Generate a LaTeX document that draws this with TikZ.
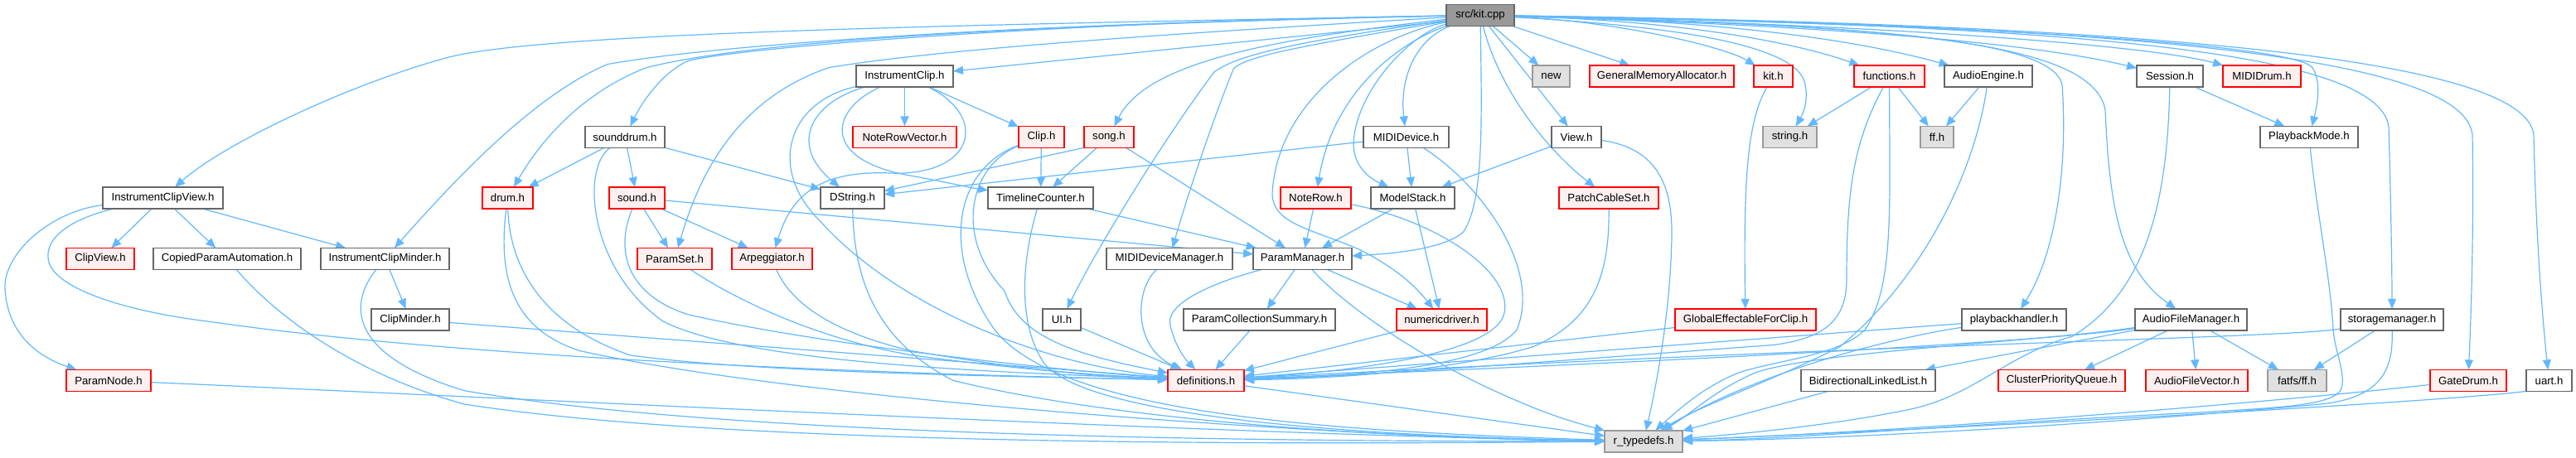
\documentclass[tikz,border=0pt]{standalone}
\usepackage{fontspec}
\setmainfont{Liberation Sans}
\usetikzlibrary{arrows.meta}
\definecolor{edgec}{HTML}{63B8FF}
\definecolor{redb}{HTML}{FF0000}
\definecolor{pinkf}{HTML}{FFF0F0}
\definecolor{grayb}{HTML}{999999}
\definecolor{grayf}{HTML}{E0E0E0}
\definecolor{darkb}{HTML}{666666}
\pgfdeclarelayer{bg}
\pgfsetlayers{bg,main}
\tikzset{
  bx/.style={draw, line width=0.75pt, minimum height=13pt, inner sep=0pt, outer sep=0pt,
    font=\fontsize{6.6pt}{7.5pt}\selectfont, text=black},
  nb/.style={bx, draw=darkb, fill=white},
  rb/.style={bx, draw=redb, fill=pinkf},
  gb/.style={bx, draw=grayb, fill=grayf},
  kb/.style={bx, draw=darkb, fill=grayb},
  ed/.style={draw=edgec, line width=0.6pt, -{Triangle[length=6pt,width=5pt]}},
}
\begin{document}
\begin{tikzpicture}[x=0.5pt, y=-0.5104pt]
\useasboundingbox (0,0) rectangle (3108,540.8);
% row 0
\node[kb, minimum width=41pt] (kitcpp) at (1786,18) {src/kit.cpp};
% row 1
\node[nb, minimum width=58.5pt] (iclip) at (1091.5,90) {InstrumentClip.h};
\node[gb, minimum width=22.5pt] (newh) at (1871.5,90) {new};
\node[rb, minimum width=87pt] (gma) at (2005,90) {GeneralMemoryAllocator.h};
\node[rb, minimum width=23.5pt] (kith) at (2139.5,90) {kit.h};
\node[rb, minimum width=42.5pt] (functions) at (2279.5,90) {functions.h};
\node[nb, minimum width=53pt] (ae) at (2399,90) {AudioEngine.h};
\node[nb, minimum width=40pt] (session) at (2618,90) {Session.h};
\node[rb, minimum width=47pt] (midid) at (2729,90) {MIDIDrum.h};
% row 2
\node[nb, minimum width=48pt] (sounddrum) at (754,162) {sounddrum.h};
\node[rb, minimum width=62.5pt] (nrv) at (1091.5,162) {NoteRowVector.h};
\node[rb, minimum width=27.5pt] (clip) at (1256.5,162) {Clip.h};
\node[rb, minimum width=30pt] (song) at (1338,162) {song.h};
\node[nb, minimum width=51.5pt] (mididevice) at (1696.5,162) {MIDIDevice.h};
\node[nb, minimum width=30pt] (view) at (1902,162) {View.h};
\node[gb, minimum width=32.5pt] (stringh) at (2159.5,162) {string.h};
\node[gb, minimum width=20pt] (ffh) at (2337,162) {ff.h};
\node[nb, minimum width=59pt] (pbm) at (2786,162) {PlaybackMode.h};
% row 3
\node[nb, minimum width=72.5pt] (icv) at (196.5,234) {InstrumentClipView.h};
\node[rb, minimum width=30.5pt] (drum) at (612.5,234) {drum.h};
\node[rb, minimum width=33.5pt] (sound) at (768.5,234) {sound.h};
\node[nb, minimum width=38.5pt] (dstring) at (1028.5,234) {DString.h};
\node[nb, minimum width=63.5pt] (tc) at (1255.5,234) {TimelineCounter.h};
\node[rb, minimum width=42.5pt] (noterow) at (1587.5,234) {NoteRow.h};
\node[nb, minimum width=50.5pt] (modelstack) at (1704.5,234) {ModelStack.h};
\node[rb, minimum width=60pt] (patch) at (1941,234) {PatchCableSet.h};
% row 4
\node[rb, minimum width=41pt] (clipview) at (121,306) {ClipView.h};
\node[nb, minimum width=89pt] (cpa) at (274,306) {CopiedParamAutomation.h};
\node[nb, minimum width=77.5pt] (icm) at (464.5,306) {InstrumentClipMinder.h};
\node[rb, minimum width=45pt] (paramset) at (814,306) {ParamSet.h};
\node[rb, minimum width=48.5pt] (arp) at (931.5,306) {Arpeggiator.h};
\node[nb, minimum width=76pt] (mdm) at (1411,306) {MIDIDeviceManager.h};
\node[nb, minimum width=59.5pt] (pm) at (1571.5,306) {ParamManager.h};
% row 5
\node[nb, minimum width=47pt] (clipminder) at (495,378) {ClipMinder.h};
\node[nb, minimum width=23pt] (ui) at (1281,378) {UI.h};
\node[nb, minimum width=91.5pt] (pcsum) at (1519.5,378) {ParamCollectionSummary.h};
\node[rb, minimum width=54.5pt] (nd) at (1739.5,378) {numericdriver.h};
\node[rb, minimum width=85pt] (gefc) at (2106,378) {GlobalEffectableForClip.h};
\node[nb, minimum width=63pt] (pbh) at (2430,378) {playbackhandler.h};
\node[nb, minimum width=67.5pt] (afm) at (2643.5,378) {AudioFileManager.h};
\node[nb, minimum width=62pt] (sm) at (2886,378) {storagemanager.h};
% row 6
\node[rb, minimum width=51pt] (paramnode) at (131,450) {ParamNode.h};
\node[rb, minimum width=46pt] (defs) at (1455,450) {definitions.h};
\node[nb, minimum width=81pt] (bll) at (2254,450) {BidirectionalLinkedList.h};
\node[rb, minimum width=76.5pt] (cpq) at (2487.5,450) {ClusterPriorityQueue.h};
\node[rb, minimum width=61.5pt] (afv) at (2650.5,450) {AudioFileVector.h};
\node[gb, minimum width=35.5pt] (fatfs) at (2771.5,450) {fatfs/ff.h};
\node[rb, minimum width=46pt] (gatedrum) at (2978,450) {GateDrum.h};
\node[nb, minimum width=27.5pt] (uart) at (3075.5,450) {uart.h};
% row 7
\node[gb, minimum width=47pt] (rt) at (1983,522) {r\_typedefs.h};

\begin{pgfonlayer}{bg}
% edges from src/kit.cpp
\draw[ed] (kitcpp) .. controls (1100,30) and (650,40) .. (540,68) .. controls (420,100) and (270,170) .. (icv);
\draw[ed] (kitcpp) .. controls (1200,28) and (850,55) .. (733,76) .. controls (650,110) and (560,200) .. (icm);
\draw[ed] (kitcpp) .. controls (1200,30) and (900,50) .. (780,80) .. controls (700,110) and (650,170) .. (drum);
\draw[ed] (kitcpp) .. controls (1300,25) and (900,55) .. (830,72) .. controls (800,85) and (775,120) .. (sounddrum);
\draw[ed] (kitcpp) .. controls (1500,35) and (1150,55) .. (1000,80) .. controls (880,120) and (840,220) .. (paramset);
\draw[ed] (kitcpp.190) -- (iclip);
\draw[ed] (kitcpp) .. controls (1550,45) and (1385,70) .. (song);
\draw[ed] (kitcpp) .. controls (1600,50) and (1500,65) .. (1488,82) .. controls (1460,150) and (1430,240) .. (mdm);
\draw[ed] (kitcpp) .. controls (1600,45) and (1500,60) .. (1465,85) .. controls (1400,170) and (1320,300) .. (ui);
\draw[ed] (kitcpp) .. controls (1700,45) and (1610,100) .. (noterow);
\draw[ed] (kitcpp) .. controls (1650,45) and (1540,120) .. (1535,230) .. controls (1537,265) and (1580,270) .. (1640,295) .. controls (1680,315) and (1705,335) .. (nd);
\draw[ed] (kitcpp) .. controls (1700,40) and (1635,110) .. (1633,170) .. controls (1633,195) and (1650,210) .. (modelstack);
\draw[ed] (kitcpp) .. controls (1710,45) and (1688,90) .. (mididevice);
\draw[ed] (kitcpp) .. controls (1788,150) and (1790,240) .. (1765,275) .. controls (1740,295) and (1680,300) .. (pm);
\draw[ed] (kitcpp) -- (newh);
\draw[ed] (kitcpp) -- (gma);
\draw[ed] (kitcpp) .. controls (1820,60) and (1860,110) .. (view);
\draw[ed] (kitcpp) .. controls (1810,110) and (1870,180) .. (patch);
\draw[ed] (kitcpp) .. controls (1950,25) and (2080,55) .. (kith);
\draw[ed] (kitcpp) .. controls (2000,30) and (2170,50) .. (2178,100) .. controls (2182,120) and (2175,135) .. (stringh);
\draw[ed] (kitcpp) .. controls (2050,25) and (2180,55) .. (functions);
\draw[ed] (kitcpp) .. controls (2100,25) and (2250,50) .. (ae);
\draw[ed] (kitcpp) .. controls (2250,30) and (2475,45) .. (2488,100) .. controls (2495,200) and (2480,300) .. (pbh);
\draw[ed] (kitcpp) .. controls (2300,30) and (2525,50) .. (2540,130) .. controls (2545,250) and (2560,320) .. (afm);
\draw[ed] (kitcpp) .. controls (2200,30) and (2450,50) .. (session);
\draw[ed] (kitcpp) .. controls (2300,30) and (2600,55) .. (midid);
\draw[ed] (kitcpp) .. controls (2450,30) and (2770,55) .. (2790,80) .. controls (2800,95) and (2797,120) .. (pbm);
\draw[ed] (kitcpp) .. controls (2500,30) and (2870,60) .. (2882,150) .. controls (2885,250) and (2886,330) .. (sm);
\draw[ed] (kitcpp) .. controls (2600,30) and (2975,70) .. (2983,160) .. controls (2985,300) and (2980,400) .. (gatedrum);
\draw[ed] (kitcpp) .. controls (2700,30) and (3050,80) .. (3057,160) .. controls (3060,300) and (3070,400) .. (uart);
% InstrumentClipView and friends
\draw[ed] (icv) -- (clipview);
\draw[ed] (icv) -- (cpa);
\draw[ed] (icv) -- (icm);
\draw[ed] (icv) .. controls (60,250) and (5,300) .. (6,340) .. controls (8,390) and (40,420) .. (paramnode);
\draw[ed] (icv) .. controls (100,255) and (55,275) .. (58,305) .. controls (60,340) and (150,368) .. (250,380) .. controls (600,430) and (1200,445) .. (defs);
\draw[ed] (cpa) .. controls (330,370) and (420,440) .. (560,478) .. controls (900,530) and (1600,525) .. (rt);
\draw[ed] (icm) -- (clipminder);
\draw[ed] (icm) .. controls (420,360) and (420,420) .. (560,462) .. controls (900,520) and (1600,522) .. (rt);
\draw[ed] (clipminder) -- (defs);
\draw[ed] (paramnode) .. controls (600,470) and (1500,515) .. (rt);
% sounddrum, drum, sound
\draw[ed] (sounddrum) -- (drum);
\draw[ed] (sounddrum) -- (sound);
\draw[ed] (sounddrum) -- (dstring);
\draw[ed] (sounddrum) .. controls (700,200) and (712,320) .. (800,380) .. controls (900,430) and (1200,440) .. (defs);
\draw[ed] (drum) .. controls (614,300) and (640,380) .. (760,420) .. controls (900,440) and (1200,445) .. (defs);
\draw[ed] (drum) .. controls (600,330) and (620,390) .. (700,415) .. controls (1000,480) and (1700,520) .. (rt);
\draw[ed] (sound) -- (paramset);
\draw[ed] (sound) -- (arp);
\draw[ed] (sound) .. controls (740,300) and (760,350) .. (830,372) .. controls (1000,410) and (1300,440) .. (defs);
\draw[ed] (sound) -- (pm);
\draw[ed] (paramset) .. controls (880,350) and (980,400) .. (1100,420) .. controls (1250,440) and (1350,445) .. (defs);
\draw[ed] (arp) .. controls (950,350) and (990,390) .. (1100,415) .. controls (1250,440) and (1350,447) .. (defs);
\draw[ed] (dstring) .. controls (1030,320) and (1050,400) .. (1150,450) .. controls (1400,510) and (1800,520) .. (rt);
% InstrumentClip
\draw[ed] (iclip) -- (nrv);
\draw[ed] (iclip) -- (clip);
\draw[ed] (iclip) .. controls (1000,130) and (990,190) .. (1100,208) .. controls (1140,215) and (1170,222) .. (tc);
\draw[ed] (iclip) .. controls (1190,135) and (1180,205) .. (1080,205) .. controls (990,200) and (955,230) .. (arp);
\draw[ed] (iclip) .. controls (980,120) and (950,170) .. (dstring);
\draw[ed] (iclip) .. controls (950,120) and (925,200) .. (990,262) .. controls (1080,360) and (1250,430) .. (defs);
% Clip, song, TimelineCounter
\draw[ed] (clip) -- (tc);
\draw[ed] (clip) .. controls (1170,195) and (1150,280) .. (1212,344) .. controls (1230,400) and (1300,420) .. (defs);
\draw[ed] (clip) .. controls (1150,200) and (1135,300) .. (1200,390) .. controls (1280,490) and (1600,510) .. (rt);
\draw[ed] (song.south west) -- (dstring);
\draw[ed] (song) -- (tc);
\draw[ed] (song) -- (pm);
\draw[ed] (tc) -- (pm);
\draw[ed] (tc) .. controls (1235,300) and (1225,380) .. (1260,430) .. controls (1310,490) and (1600,515) .. (rt);
% MIDIDevice, View, ModelStack, NoteRow
\draw[ed] (mididevice) -- (dstring);
\draw[ed] (mididevice) -- (modelstack);
\draw[ed] (mididevice) .. controls (1790,220) and (1860,320) .. (1830,390) .. controls (1790,440) and (1600,445) .. (defs);
\draw[ed] (view) -- (modelstack);
\draw[ed] (view) .. controls (2000,175) and (2018,220) .. (2017,280) .. controls (2015,380) and (1995,470) .. (rt);
\draw[ed] (modelstack) -- (pm);
\draw[ed] (modelstack) -- (nd);
\draw[ed] (noterow) -- (pm);
\draw[ed] (noterow) .. controls (1730,260) and (1825,320) .. (1815,370) .. controls (1805,420) and (1620,440) .. (defs);
% ParamManager and below
\draw[ed] (pm) -- (pcsum);
\draw[ed] (pm) -- (nd);
\draw[ed] (pm) .. controls (1460,335) and (1405,360) .. (1412,385) .. controls (1418,410) and (1430,425) .. (defs);
\draw[ed] (pm) .. controls (1620,360) and (1720,430) .. (1840,478) .. controls (1880,495) and (1920,505) .. (rt);
\draw[ed] (pcsum) -- (defs);
\draw[ed] (mdm) .. controls (1370,340) and (1365,410) .. (defs);
\draw[ed] (ui) -- (defs);
\draw[ed] (nd) -- (defs);
\draw[ed] (patch) .. controls (1942,330) and (1920,380) .. (1850,410) .. controls (1750,440) and (1600,448) .. (defs);
% kit.h, functions, AudioEngine, Session
\draw[ed] (kith) .. controls (2110,140) and (2103,200) .. (gefc);
\draw[ed] (gefc) -- (defs);
\draw[ed] (functions) -- (stringh);
\draw[ed] (functions) -- (ffh);
\draw[ed] (functions) .. controls (2235,170) and (2228,230) .. (2228,330) .. controls (2228,380) and (2200,400) .. (2140,408) .. controls (1900,425) and (1650,445) .. (defs);
\draw[ed] (functions) .. controls (2280,250) and (2285,340) .. (2250,390) .. controls (2220,420) and (2150,425) .. (2100,440) .. controls (2060,455) and (2030,480) .. (rt);
\draw[ed] (ae) -- (ffh);
\draw[ed] (ae) .. controls (2385,190) and (2330,320) .. (2220,410) .. controls (2140,450) and (2050,480) .. (rt);
\draw[ed] (session) -- (pbm);
\draw[ed] (session) .. controls (2615,260) and (2580,350) .. (2500,398) .. controls (2420,420) and (2380,470) .. (2300,485) .. controls (2200,505) and (2080,515) .. (rt);
\draw[ed] (pbm) .. controls (2795,250) and (2812,330) .. (2815,390) .. controls (2818,420) and (2830,440) .. (2825,460) .. controls (2815,480) and (2750,482) .. (2650,488) .. controls (2400,500) and (2150,520) .. (rt);
% playbackhandler, AudioFileManager, storagemanager
\draw[ed] (pbh) -- (defs);
\draw[ed] (pbh) .. controls (2280,400) and (2120,440) .. (rt);
\draw[ed] (afm) -- (bll);
\draw[ed] (afm) -- (cpq);
\draw[ed] (afm) -- (afv);
\draw[ed] (afm) -- (fatfs);
\draw[ed] (afm) .. controls (2500,400) and (2200,420) .. (defs);
\draw[ed] (afm) .. controls (2450,405) and (2200,415) .. (2120,440) .. controls (2070,460) and (2040,490) .. (rt);
\draw[ed] (bll) -- (rt);
\draw[ed] (sm) -- (fatfs);
\draw[ed] (sm) .. controls (2760,400) and (2300,405) .. (defs);
\draw[ed] (sm) .. controls (2887,430) and (2880,470) .. (2800,478) .. controls (2500,505) and (2200,520) .. (rt);
\draw[ed] (gatedrum) .. controls (2700,480) and (2300,510) .. (rt);
\draw[ed] (uart.south west) .. controls (2950,475) and (2400,505) .. (rt);
\draw[ed] (defs) -- (rt);
\end{pgfonlayer}
\end{tikzpicture}
\end{document}
